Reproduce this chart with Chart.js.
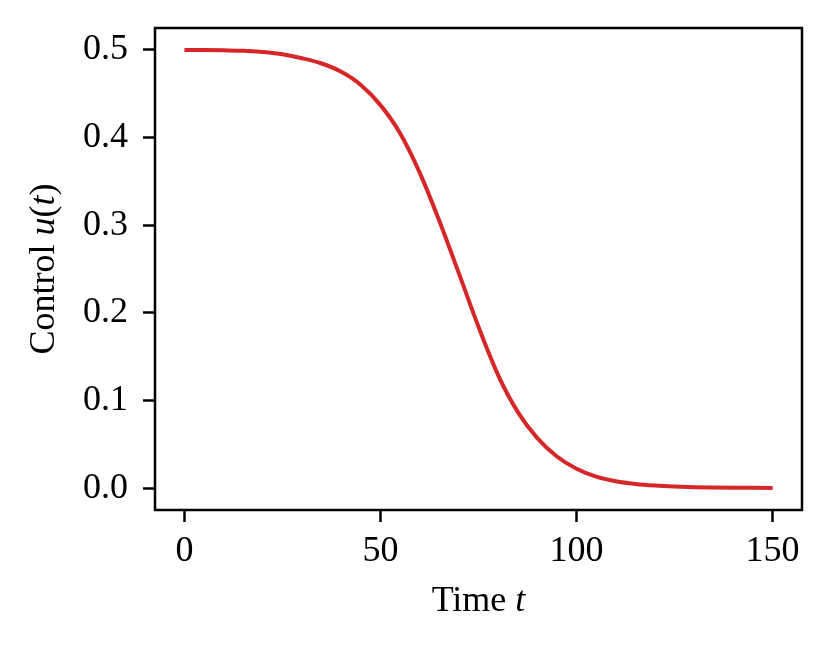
<!DOCTYPE html>
<html>
<head>
<meta charset="utf-8">
<script src="https://cdn.jsdelivr.net/npm/chart.js@4.4.1/dist/chart.umd.min.js"></script>
<style>
  html, body { margin: 0; padding: 0; background: #fff; }
  #wrap { width: 831px; height: 647px; }
</style>
</head>
<body>
<div id="wrap"><canvas id="ctrl" width="831" height="647"></canvas></div>
<script>
/* values */
const times = [0, 5, 10, 15, 20, 25, 30, 35, 40, 45, 50, 55, 60, 65, 70, 75,
               80, 85, 90, 95, 100, 105, 110, 115, 120, 125, 130, 135, 140, 145, 150];
const control = [0.5000, 0.4998, 0.4995, 0.4990, 0.4975, 0.4950, 0.4905, 0.4845,
                 0.4750, 0.4600, 0.4370, 0.4050, 0.3600, 0.3050, 0.2450, 0.1840,
                 0.1290, 0.0870, 0.0570, 0.0360, 0.0220, 0.0130, 0.0078, 0.0047,
                 0.0029, 0.0018, 0.0011, 0.0007, 0.0004, 0.0003, 0.0002];
const xTicks = [0, 50, 100, 150];
const yTicks = [0.0, 0.1, 0.2, 0.3, 0.4, 0.5];

const FONT = "'Liberation Serif', 'Times New Roman', serif";
const FSIZE = 36;

/* box round the plot and the two axis titles with italic maths */
const frameAndTitles = {
  id: 'frameAndTitles',
  afterDraw(chart) {
    const ctx = chart.ctx;
    const a = chart.chartArea;
    ctx.save();
    ctx.strokeStyle = '#000';
    ctx.lineWidth = 2.5;
    ctx.strokeRect(a.left, a.top, a.right - a.left, a.bottom - a.top);

    function drawParts(parts, cx, cy) {
      let total = 0;
      parts.forEach(p => {
        ctx.font = (p.it ? 'italic ' : '') + FSIZE + 'px ' + FONT;
        p.w = ctx.measureText(p.s).width;
        total += p.w;
      });
      let x = cx - total / 2;
      parts.forEach(p => {
        ctx.font = (p.it ? 'italic ' : '') + FSIZE + 'px ' + FONT;
        ctx.fillText(p.s, x, cy);
        x += p.w;
      });
    }

    ctx.fillStyle = '#000';
    ctx.textBaseline = 'alphabetic';
    ctx.textAlign = 'left';
    drawParts([{s: 'Time '}, {s: 't', it: true}], (a.left + a.right) / 2, 611);

    ctx.translate(54, (a.top + a.bottom) / 2);
    ctx.rotate(-Math.PI / 2);
    drawParts([{s: 'Control '}, {s: 'u', it: true}, {s: '('}, {s: 't', it: true}, {s: ')'}], 0, 0);
    ctx.restore();
  }
};

const ctx = document.getElementById('ctrl').getContext('2d');
const chart = new Chart(ctx, {
  type: 'line',
  data: {
    datasets: [{
      data: times.map((t, i) => ({x: t, y: control[i]})),
      borderColor: '#d62728',
      borderWidth: 4,
      pointRadius: 0,
      cubicInterpolationMode: 'monotone',
      fill: false
    }]
  },
  options: {
    responsive: false,
    animation: false,
    devicePixelRatio: 1,
    layout: { padding: { left: 0, top: 28, right: 29, bottom: 0 } },
    plugins: { legend: { display: false }, tooltip: { enabled: false } },
    scales: {
      x: {
        type: 'linear',
        min: -7.5,
        max: 157.5,
        afterBuildTicks: s => { s.ticks = xTicks.map(v => ({value: v})); },
        afterFit: s => { s.height = 137; s.paddingLeft = 0; s.paddingRight = 0; },
        grid: { drawOnChartArea: false, drawTicks: true, tickLength: 12, tickWidth: 2.5, tickColor: '#000' },
        border: { display: false },
        ticks: {
          color: '#000',
          padding: 8,
          maxRotation: 0,
          font: { family: FONT, size: FSIZE },
          callback: v => String(v)
        }
      },
      y: {
        min: -0.025,
        max: 0.525,
        afterBuildTicks: s => { s.ticks = yTicks.map(v => ({value: v})); },
        afterFit: s => { s.width = 155; s.paddingTop = 0; s.paddingBottom = 0; },
        grid: { drawOnChartArea: false, drawTicks: true, tickLength: 12, tickWidth: 2.5, tickColor: '#000' },
        border: { display: false },
        ticks: {
          color: '#000',
          padding: 15,
          font: { family: FONT, size: FSIZE },
          callback: v => Number(v).toFixed(1)
        }
      }
    }
  },
  plugins: [frameAndTitles]
});
</script>
</body>
</html>
